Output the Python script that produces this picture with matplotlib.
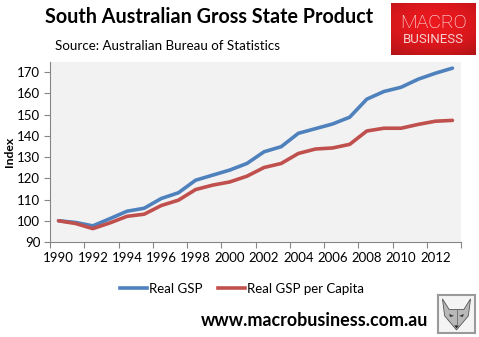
import numpy as np
import matplotlib
matplotlib.use("Agg")
import matplotlib.pyplot as plt
from matplotlib.patches import Polygon
from matplotlib.lines import Line2D

plt.rcParams['font.family'] = ['Lato', 'DejaVu Sans']

years = list(range(1990, 2014))
real_gsp = [100.0, 99.2, 97.6, 101.0, 104.5, 105.9, 110.5, 113.2, 119.1, 121.5,
            123.9, 127.0, 132.5, 134.9, 141.2, 143.4, 145.6, 148.8, 157.3, 160.9,
            162.9, 166.7, 169.5, 171.9]
real_gsp_pc = [100.0, 98.7, 96.3, 99.0, 102.1, 103.1, 107.2, 109.7, 114.7, 116.8,
               118.3, 121.0, 125.1, 127.0, 131.7, 133.8, 134.3, 136.0, 142.3, 143.6,
               143.6, 145.4, 146.9, 147.3]
series_names = ["Real GSP", "Real GSP per Capita"]
y_ticks = list(range(90, 171, 10))

W, H = 479, 337
fig = plt.figure(figsize=(W / 100, H / 100), dpi=100)
fig.patch.set_facecolor("white")

def box(x0, y0, x1, y1):
    # pixel box (top-left origin) -> figure fraction rect
    return [x0 / W, 1 - y1 / H, (x1 - x0) / W, (y1 - y0) / H]

ax = fig.add_axes(box(50, 62, 461, 242))
ax.set_facecolor("#f2f2f2")

blue = "#4f81bd"
red = "#c0504d"
x = np.arange(len(years))
ax.plot(x, real_gsp, color=blue, lw=2.6, solid_capstyle="round", solid_joinstyle="round")
ax.plot(x, real_gsp_pc, color=red, lw=2.6, solid_capstyle="round", solid_joinstyle="round")

ax.set_xlim(-0.5, len(years) - 0.5)
ax.set_ylim(90, 174.8)
ax.set_yticks(y_ticks)
ax.set_yticklabels([str(v) for v in y_ticks])

# category axis: tick marks between categories, labels on every second year
ax.set_xticks(np.arange(-0.5, len(years), 2))
ax.set_xticklabels([])
ax.set_xticks(x[::2], minor=True)
ax.set_xticklabels([str(y) for y in years[::2]], minor=True)
ax.tick_params(axis="x", which="major", length=4, color="#868686", direction="out")
ax.tick_params(axis="x", which="minor", length=0, pad=7, labelsize=9.5, labelcolor="black")
ax.tick_params(axis="y", length=4, color="#868686", direction="out", labelsize=9.5, pad=3)

for s in ["top", "right"]:
    ax.spines[s].set_visible(False)
for s in ["left", "bottom"]:
    ax.spines[s].set_color("#868686")
    ax.spines[s].set_linewidth(0.8)

ax.set_ylabel("Index", fontsize=8.8, fontweight="bold")
ax.yaxis.set_label_coords(-35 / 411, 0.5)

# titles
fig.text(209 / W, 1 - 17 / H, "South Australian Gross State Product",
         ha="center", va="center", fontsize=14.2, fontweight="bold")
fig.text(55 / W, 1 - 46 / H, "Source: Australian Bureau of Statistics",
         ha="left", va="center", fontsize=9.6)

# legend
handles = [Line2D([], [], color=blue, lw=2.6), Line2D([], [], color=red, lw=2.6)]
fig.legend(handles, series_names, loc="center", bbox_to_anchor=(242 / W, 1 - 289 / H),
           ncol=2, frameon=False, fontsize=9.5, handlelength=2.0, handletextpad=0.15,
           columnspacing=1.2)

# web address
fig.text(315 / W, 1 - 320 / H, "www.macrobusiness.com.au", ha="center", va="center",
         fontsize=12.9, fontweight="bold")

# brand badge with red gradient
lax = fig.add_axes(box(391, 3, 476, 55))
gy, gx = np.mgrid[0:1:60j, 0:1:100j]
v = 1 - 0.3 * ((gx - 0.5) ** 2 * 1.2 + (gy - 0.4) ** 2 * 1.5)
base = np.array([0.92, 0.10, 0.12])
img = np.clip(base[None, None, :] * v[..., None], 0, 1)
lax.imshow(img, extent=[0, 1, 0, 1], aspect="auto")
lax.text(0.5, 0.62, "MACRO", color="white", ha="center", va="center", fontsize=14,
         family=["Roboto", "DejaVu Sans"], fontweight="light")
lax.text(0.5, 0.3, "BUSINESS", color="#f6d0d0", ha="center", va="center", fontsize=9.5,
         family=["Roboto", "DejaVu Sans"])
lax.set_xlim(0, 1)
lax.set_ylim(0, 1)
lax.axis("off")

# fox mascot sketch
fax = fig.add_axes(box(438, 295, 475, 333))
fax.set_xlim(0, 1)
fax.set_ylim(0, 1)
fax.set_facecolor("#f4f4f4")
for s in fax.spines.values():
    s.set_color("#9a9a9a")
    s.set_linewidth(1.5)
fax.set_xticks([])
fax.set_yticks([])
head = Polygon([[0.12, 0.9], [0.3, 0.62], [0.7, 0.62], [0.88, 0.9], [0.82, 0.45],
                [0.62, 0.22], [0.5, 0.08], [0.38, 0.22], [0.18, 0.45]],
               closed=True, facecolor="#b8b8b8", edgecolor="#555555", lw=0.6)
fax.add_patch(head)
fax.add_patch(Polygon([[0.3, 0.5], [0.43, 0.45], [0.33, 0.42]], facecolor="#333333"))
fax.add_patch(Polygon([[0.7, 0.5], [0.57, 0.45], [0.67, 0.42]], facecolor="#333333"))
fax.add_patch(Polygon([[0.44, 0.2], [0.56, 0.2], [0.5, 0.12]], facecolor="#222222"))
fax.plot([0.5, 0.5], [0.6, 0.22], color="#6a6a6a", lw=0.6)

fig.savefig("out.png", dpi=100, facecolor="white")
